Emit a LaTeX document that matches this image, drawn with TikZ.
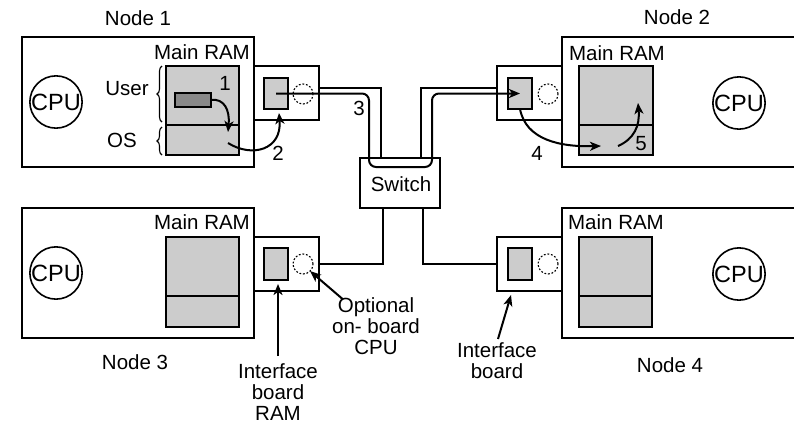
\documentclass[tikz,border=0pt]{standalone}
\usepackage{fontspec}
\setmainfont{Liberation Sans}
\usetikzlibrary{arrows.meta,decorations.pathreplacing,calc}
\definecolor{ramgray}{HTML}{CCCCCC}
\definecolor{dkgray}{HTML}{888888}
\begin{document}
\begin{tikzpicture}[x=1pt,y=-1pt,
  every node/.style={font=\fontsize{20.5}{21}\selectfont, inner sep=0pt, outer sep=0pt},
  nodebox/.style={draw, line width=1.6pt, fill=white},
  ram/.style={draw, line width=1.6pt, fill=ramgray},
  dkbox/.style={draw, line width=1.6pt, fill=dkgray},
  dcirc/.style={draw, circle, dash pattern=on 1.8pt off 1.8pt, line width=1.1pt, minimum size=20pt},
  cpu/.style={draw, circle, line width=1.6pt, minimum size=51pt, font=\fontsize{23.5}{23.5}\selectfont},
  lbl/.style={align=center},
  flow/.style={line width=2pt, -{Stealth[length=11pt,width=9pt,inset=3pt]}},
  cable/.style={line width=1.6pt},
  brc/.style={decorate, decoration={brace, amplitude=5pt}, line width=1.1pt},
]
\useasboundingbox (0,0) rectangle (794,424);

% node boxes
\node[nodebox, minimum width=232pt, minimum height=130pt] (n1) at (138,102) {};
\node[nodebox, minimum width=238pt, minimum height=130pt] (n2) at (681,102) {};
\node[nodebox, minimum width=232pt, minimum height=130pt] (n3) at (138,273) {};
\node[nodebox, minimum width=238pt, minimum height=130pt] (n4) at (681,273) {};

% titles
\node (t1) at (138,18) {Node 1};
\node (t2) at (677,17) {Node 2};
\node (t3) at (135,362) {Node 3};
\node (t4) at (670,365) {Node 4};

% CPUs
\node[cpu] (cpu1) at (56,102) {CPU};
\node[cpu] (cpu2) at (739,103) {CPU};
\node[cpu] (cpu3) at (56,273) {CPU};
\node[cpu] (cpu4) at (739,274) {CPU};

% Main RAM labels
\node (ml1) at (202,52) {Main RAM};
\node (ml2) at (617,53) {Main RAM};
\node (ml3) at (202,222) {Main RAM};
\node (ml4) at (616,222) {Main RAM};

% Main RAM boxes
\node[ram, minimum width=73pt, minimum height=89pt] (m1) at (202.5,110.5) {};
\node[ram, minimum width=74pt, minimum height=89pt] (m2) at (616,110.5) {};
\node[ram, minimum width=73pt, minimum height=90pt] (m3) at (202.5,282) {};
\node[ram, minimum width=73pt, minimum height=90pt] (m4) at (615.5,282) {};
\foreach \m in {m1,m2}{
  \draw[line width=1.6pt] ($(\m.south west)+(0,-30)$) -- ($(\m.south east)+(0,-30)$);
}
\foreach \m in {m3,m4}{
  \draw[line width=1.6pt] ($(\m.south west)+(0,-31)$) -- ($(\m.south east)+(0,-31)$);
}

% braces and labels (node 1)
\draw[brc] (162,122) -- (162,66);
\draw[brc] (162,155) -- (162,127);
\node (user) at (127,89) {User};
\node (os) at (122,140) {OS};

% user buffer
\node[dkbox, minimum width=36pt, minimum height=14pt] (buf) at (193,100) {};

% interface boards
\node[nodebox, minimum width=65pt, minimum height=54pt] (b1) at (286.5,93) {};
\node[nodebox, minimum width=65pt, minimum height=54pt] (b2) at (529.5,93) {};
\node[nodebox, minimum width=65pt, minimum height=54pt] (b3) at (286.5,264) {};
\node[nodebox, minimum width=65pt, minimum height=54pt] (b4) at (529.5,264) {};

% interface RAMs
\node[ram, minimum width=24pt, minimum height=31pt] (r1) at (276,93.5) {};
\node[ram, minimum width=24pt, minimum height=31pt] (r2) at (520,93.5) {};
\node[ram, minimum width=24pt, minimum height=32pt] (r3) at (276,264) {};
\node[ram, minimum width=24pt, minimum height=32pt] (r4) at (520,264) {};

% optional on-board CPUs
\node[dcirc] (c1) at (303,94) {};
\node[dcirc] (c2) at (548,94) {};
\node[dcirc] (c3) at (303,264) {};
\node[dcirc] (c4) at (548,264) {};

% switch
\node[nodebox, minimum width=80pt, minimum height=50pt] (sw) at (400,183) {};
\node (swt) at (401,184) {Switch};

% cables
\draw[cable] ([yshift=5pt]b1.east) -| ($(sw.north)+(-19,0)$);
\draw[cable] ([yshift=5pt]b2.west) -| ($(sw.north)+(21,0)$);
\draw[cable] (b3.east) -| ($(sw.south)+(-17,0)$);
\draw[cable] (b4.west) -| ($(sw.south)+(23,0)$);

% message flow
\coordinate (a1e) at (228,132);
\coordinate (a2s) at (228,143);
\coordinate (a2e) at (279,113);
\coordinate (a4e) at (601,146);
\coordinate (a5s) at (618,146);
\coordinate (a5e) at (638,103);
\draw[flow] (buf.east) .. controls (224,98) and (230,110) .. (a1e);
\draw[flow] (a2s) .. controls (252,158) and (282,150) .. (a2e);
\draw[flow, rounded corners=7pt] (r1.center) -| ($(sw.north)+(-31,9)$) -| ($(sw.north |- r2.center)+(32,0)$) -- (r2.center);
\draw[flow] (r2.south) .. controls (526,140) and (560,147) .. (a4e);
\draw[flow] (a5s) .. controls (634,139) and (640,126) .. (a5e);

% step numbers
\node (l1) at (225,83) {1};
\node (l2) at (278,153) {2};
\node (l3) at (359,108) {3};
\node (l4) at (537,153) {4};
\node (l5) at (641,144) {5};

% annotations
\node[lbl] (ibr) at (278,392.5) {Interface\\board\\RAM};
\node[lbl] (opt) at (376,326) {Optional\\on- board\\CPU};
\node[lbl] (ib) at (497,361) {Interface\\board};
\draw[flow] ($(ibr.north)+(0,-8)$) -- ($(r3.south)+(2,4)$);
\draw[flow] ($(opt.north west)+(11,2)$) -- (c3.south east);
\draw[flow] ($(ib.north)+(1,-4)$) -- ($(b4.south west)+(14,4)$);
\end{tikzpicture}
\end{document}
